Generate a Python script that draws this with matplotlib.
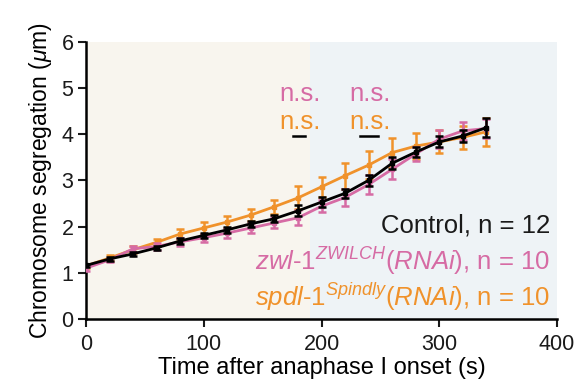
import matplotlib
matplotlib.use('Agg')
import numpy as np
import matplotlib.pyplot as plt

plt.rcParams['font.family'] = ['Liberation Sans', 'DejaVu Sans']
plt.rcParams['mathtext.fontset'] = 'custom'
plt.rcParams['mathtext.rm'] = 'Liberation Sans'
plt.rcParams['mathtext.it'] = 'Liberation Sans:italic'

# time after anaphase I onset (s)
time = [0, 20, 40, 60, 80, 100, 120, 140, 160, 180, 200, 220, 240, 260, 280, 300, 320, 340]

control = [1.16, 1.30, 1.41, 1.54, 1.69, 1.81, 1.93, 2.06, 2.17, 2.34, 2.53, 2.72, 3.00, 3.37, 3.61, 3.83, 3.96, 4.14]
control_err = [0.04, 0.04, 0.05, 0.05, 0.06, 0.06, 0.07, 0.07, 0.08, 0.12, 0.10, 0.10, 0.12, 0.13, 0.11, 0.12, 0.13, 0.20]

zwl = [1.10, 1.28, 1.52, 1.57, 1.67, 1.76, 1.86, 1.97, 2.08, 2.19, 2.44, 2.63, 2.91, 3.24, 3.57, 3.89, 4.07, 4.12]
zwl_err = [0.05, 0.05, 0.07, 0.08, 0.08, 0.09, 0.10, 0.10, 0.12, 0.16, 0.13, 0.18, 0.20, 0.22, 0.16, 0.20, 0.20, 0.20]

spdl = [1.15, 1.32, 1.50, 1.66, 1.84, 1.97, 2.10, 2.25, 2.43, 2.62, 2.86, 3.10, 3.33, 3.60, 3.74, 3.83, 3.93, 4.05]
spdl_err = [0.05, 0.06, 0.08, 0.08, 0.10, 0.12, 0.12, 0.13, 0.15, 0.25, 0.22, 0.28, 0.30, 0.32, 0.28, 0.25, 0.25, 0.30]

# n.s. comparisons (time span of bar)
ns_spans = [(176, 186), (233, 248)]

pink = '#d66ba4'
orange = '#f0922b'

fig = plt.figure(figsize=(5.83, 3.92), dpi=100)
ax = fig.add_axes([0.1475, 0.186, 0.808, 0.708])

ax.axvspan(0, 190, color='#f8f5ee', zorder=0, lw=0)
ax.axvspan(190, 400, color='#eef3f6', zorder=0, lw=0)

ax.errorbar(time, spdl, yerr=spdl_err, color=orange, lw=2, capsize=3, capthick=1.8,
            elinewidth=1.8, marker='s', ms=3, zorder=2)
ax.errorbar(time, zwl, yerr=zwl_err, color=pink, lw=2, capsize=3, capthick=1.8,
            elinewidth=1.8, marker='s', ms=3, zorder=3)
ax.errorbar(time, control, yerr=control_err, color='black', lw=2, capsize=3, capthick=1.8,
            elinewidth=1.8, marker='s', ms=3, zorder=4)

# significance markers
for x0, x1 in ns_spans:
    ax.plot([x0, x1], [3.96, 3.96], color='black', lw=1.8, zorder=5)
    xc = (x0 + x1) / 2 + 1
    ax.text(xc, 4.26, 'n.s.', color=orange, fontsize=18.5, ha='center', va='center')
    ax.text(xc, 4.87, 'n.s.', color=pink, fontsize=18.5, ha='center', va='center')

ax.text(394, 2.02, 'Control, n = 12', color='#1a1a1a', fontsize=18.5, ha='right', va='center')
ax.text(394, 1.24, r'$\mathit{zwl}$-$\mathit{1}^{\mathit{ZWILCH}}\mathit{(RNAi)}$, n = 10',
        color=pink, fontsize=18.5, ha='right', va='center')
ax.text(394, 0.48, r'$\mathit{spdl}$-$\mathit{1}^{\mathit{Spindly}}\mathit{(RNAi)}$, n = 10',
        color=orange, fontsize=18.5, ha='right', va='center')

ax.set_xlim(0, 400)
ax.set_ylim(0, 6)
ax.set_xticks([0, 100, 200, 300, 400])
ax.set_yticks([0, 1, 2, 3, 4, 5, 6])
ax.spines['top'].set_visible(False)
ax.spines['right'].set_visible(False)
ax.spines['left'].set_linewidth(1.8)
ax.spines['bottom'].set_linewidth(1.8)
ax.tick_params(direction='out', length=6, width=1.5, labelsize=15.5, colors='#1a1a1a')
ax.tick_params(axis='x', pad=5)
ax.tick_params(axis='y', pad=3)
ax.set_xlabel('Time after anaphase I onset (s)', fontsize=17, labelpad=1)
ax.set_ylabel(r'Chromosome segregation ($\mathit{\mu}$m)', fontsize=16.5, labelpad=5)

fig.savefig('out.png', dpi=100)
